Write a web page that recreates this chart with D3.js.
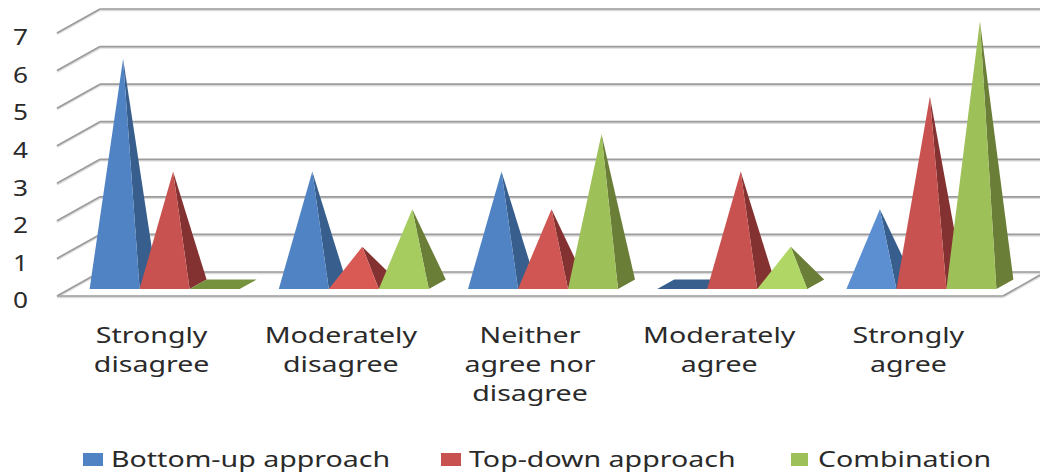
<!DOCTYPE html>
<html>
<head>
<meta charset="utf-8">
<script src="https://cdnjs.cloudflare.com/ajax/libs/d3/7.8.5/d3.min.js"></script>
<style>
html,body{margin:0;padding:0;background:#fff;overflow:hidden}
text{font-family:"Noto Sans","Open Sans",sans-serif;fill:#2a2a2a}
</style>
</head>
<body>
<svg id="chart" width="1040" height="474"></svg>
<script>
// Survey responses per approach
const categories = [
  ["Strongly", "disagree"],
  ["Moderately", "disagree"],
  ["Neither", "agree nor", "disagree"],
  ["Moderately", "agree"],
  ["Strongly", "agree"]
];
const seriesNames = ["Bottom-up approach", "Top-down approach", "Combination"];
const bottomUp = [6, 3, 3, 0, 2];
const topDown = [3, 1, 2, 3, 5];
const combination = [0, 2, 4, 1, 7];
const yTicks = [0, 1, 2, 3, 4, 5, 6, 7];
// Short pyramids catch more light, so the front face brightens at values 1 and 2
const palette = [
  {tall: "#5083c4", v2: "#5b8fd2", v1: "#5b8fd2", side: "#375e8c", flat: "#375e8c"},
  {tall: "#c8524f", v2: "#cf5652", v1: "#d95a55", side: "#843231", flat: "#843231"},
  {tall: "#9ec058", v2: "#a6cc5f", v1: "#b0d666", side: "#6a7e38", flat: "#76923c"}
];
const seriesValues = [bottomUp, topDown, combination];

const svg = d3.select("#chart");

// Front plane of the floor and the depth of the chart box
const x0 = d3.scaleBand().domain(d3.range(categories.length)).range([57, 1003]);
const y = d3.scaleLinear().domain([0, 7]).range([296, 33]);
const wallDx = 43, wallDy = -24;
const inset = {dx: 13, dy: -7};
const depth = {dx: 17, dy: -9.4};
const seriesWidth = 50;
const x1 = d3.scaleBand().domain(d3.range(seriesNames.length))
  .range([0, seriesWidth * seriesNames.length]);
const groupOffset = (x0.bandwidth() - x1.range()[1]) / 2 + inset.dx;

const line = (g, a, b) => g.append("line")
  .attr("x1", a[0]).attr("y1", a[1]).attr("x2", b[0]).attr("y2", b[1]);

// Gridlines: back wall, left wall, floor edges
const grid = svg.append("g").attr("fill", "none");
function stroke(a, b) {
  line(grid, [a[0], a[1] + 1], [b[0], b[1] + 1]).attr("stroke", "#dcdcdc").attr("stroke-width", 2.5);
  line(grid, a, b).attr("stroke", "#9c9c9c").attr("stroke-width", 1.7);
}
yTicks.forEach(t => {
  const py = y(t);
  stroke([57, py], [57 + wallDx, py + wallDy]);
  stroke([57 + wallDx, py + wallDy], [1040, py + wallDy]);
});
stroke([57, y(0)], [1003, y(0)]);
stroke([1003, y(0)], [1040, y(0) - 21]);

// Pyramids: each one shows its front face and right side, later series overlap earlier ones
const marks = svg.append("g");
const path = d3.line();
categories.forEach((_, ci) => {
  seriesValues.forEach((vals, si) => {
    const v = vals[ci];
    const c = palette[si];
    const fl = x0(ci) + groupOffset + x1(si);
    const fr = fl + x1.bandwidth();
    const base = y(0) + inset.dy;
    const backR = [fr + depth.dx, base + depth.dy];
    const backL = [fl + depth.dx, base + depth.dy];
    if (v === 0) {
      marks.append("path").attr("fill", c.flat)
        .attr("d", path([[fl, base], [fr, base], backR, backL]) + "Z");
      return;
    }
    const tip = [(fl + fr + depth.dx) / 2, y(v) + inset.dy + depth.dy / 2];
    marks.append("path").attr("fill", c.side)
      .attr("d", path([[fr, base], backR, tip]) + "Z");
    marks.append("path").attr("fill", v === 1 ? c.v1 : v === 2 ? c.v2 : c.tall)
      .attr("d", path([[fl, base], [fr, base], tip]) + "Z");
  });
});

// Value axis labels
const axisG = svg.append("g")
  .attr("transform", "translate(28,5)")
  .call(d3.axisLeft(y).tickValues(yTicks).tickFormat(d3.format("d")).tickSize(0).tickPadding(0));
axisG.select(".domain").remove();
axisG.selectAll("text")
  .style("font-size", "21px")
  .attr("text-anchor", "end")
  .attr("transform", "scale(1.25,1)")
  .attr("x", 0);

// Category labels
const hScale = 1.36;
const catG = svg.append("g");
categories.forEach((lines, ci) => {
  lines.forEach((ln, i) => {
    catG.append("text")
      .attr("text-anchor", "middle")
      .attr("font-size", 21)
      .attr("transform", `translate(${x0(ci) + x0.bandwidth() / 2},${343 + i * 29}) scale(${hScale},1)`)
      .text(ln);
  });
});

// Legend
const legendX = [83, 441, 791];
const legendText = [111, 469, 818];
seriesNames.forEach((name, i) => {
  svg.append("rect").attr("x", legendX[i]).attr("y", 453)
    .attr("width", i === 2 ? 17 : 20).attr("height", 13)
    .attr("fill", palette[i].tall);
  svg.append("text")
    .attr("font-size", 21)
    .attr("transform", `translate(${legendText[i]},467) scale(${hScale},1)`)
    .text(name);
});
</script>
</body>
</html>
